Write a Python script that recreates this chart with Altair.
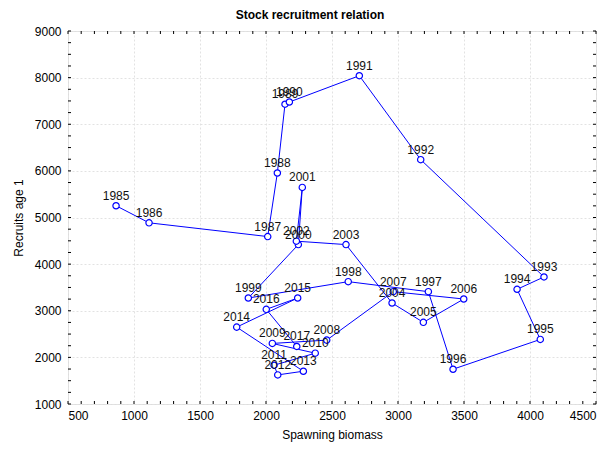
import altair as alt
import pandas as pd

years = list(range(1985, 2018))
biomass = [864, 1114, 2013, 2086, 2144, 2177, 2707, 3172, 4106, 3902,
           4078, 3417, 3230, 2623, 1866, 2245, 2275, 2230, 2606, 2955,
           3192, 3498, 2964, 2460, 2048, 2373, 2061, 2089, 2283, 1778,
           2240, 2002, 2233]
recruits = [5252, 4886, 4591, 5955, 7430, 7477, 8041, 6241, 3725, 3460,
            2385, 1746, 3409, 3624, 3273, 4419, 5645, 4492, 4419, 3166,
            2751, 3252, 3409, 2370, 2299, 2090, 1832, 1624, 1703, 2649,
            3273, 3030, 2234]

x_major = [500, 1000, 1500, 2000, 2500, 3000, 3500, 4000, 4500]
y_major = [1000, 2000, 3000, 4000, 5000, 6000, 7000, 8000, 9000]
x_ticks = list(range(500, 4501, 100))
y_ticks = list(range(1000, 9001, 250))

df = pd.DataFrame({"year": years, "biomass": biomass, "recruits": recruits})
df["label"] = df["year"].astype(str)
xt = pd.DataFrame({"biomass": x_ticks})
yt = pd.DataFrame({"recruits": y_ticks})

W, H = 528, 373
FONT = "Liberation Sans"
BLUE = "#0000ff"

xscale = alt.Scale(domain=[500, 4500], nice=False, zero=False)
yscale = alt.Scale(domain=[1000, 9000], nice=False, zero=False)

xaxis = alt.Axis(values=x_major, format="d", title="Spawning biomass", ticks=False, domain=False,
                 grid=True, gridDash=[2, 2], gridColor="#e2e2e2",
                 labelFontSize=12, labelColor="black", labelPadding=6,
                 titleFontSize=12, titleFontWeight="normal", titleColor="black",
                 titlePadding=8, labelFont=FONT, titleFont=FONT)
yaxis = alt.Axis(values=y_major, format="d", title="Recruits age 1", ticks=False, domain=False,
                 grid=True, gridDash=[2, 2], gridColor="#e2e2e2",
                 labelFontSize=12, labelColor="black", labelPadding=7,
                 titleFontSize=12, titleFontWeight="normal", titleColor="black",
                 titlePadding=9, labelFont=FONT, titleFont=FONT)

X = alt.X("biomass:Q", scale=xscale, axis=xaxis)
Y = alt.Y("recruits:Q", scale=yscale, axis=yaxis)

base = alt.Chart(df)

line = base.mark_line(color=BLUE, strokeWidth=1).encode(
    x=X, y=Y, order=alt.Order("year:Q"),
)

points = base.mark_point(shape="circle", filled=True, fill="white", stroke=BLUE,
                         strokeWidth=1.2, size=40, opacity=1).encode(x=X, y=Y)

labels = base.mark_text(font=FONT, fontSize=12, color="#111111", baseline="alphabetic",
                        align="center", dy=-6).encode(x=X, y=Y, text="label:N")

tick_len = 3
bottom_ticks = alt.Chart(xt).mark_rule(color="black", strokeWidth=1).encode(
    x=X, y=alt.value(H), y2=alt.value(H - tick_len))
top_ticks = alt.Chart(xt).mark_rule(color="black", strokeWidth=1).encode(
    x=X, y=alt.value(0), y2=alt.value(tick_len))
left_ticks = alt.Chart(yt).mark_rule(color="black", strokeWidth=1).encode(
    y=Y, x=alt.value(0), x2=alt.value(tick_len))
right_ticks = alt.Chart(yt).mark_rule(color="black", strokeWidth=1).encode(
    y=Y, x=alt.value(W), x2=alt.value(W - tick_len))

chart = alt.layer(line, bottom_ticks, top_ticks, left_ticks, right_ticks, points, labels).properties(
    width=W, height=H,
    title=alt.TitleParams("Stock recruitment relation", font=FONT, fontSize=12,
                          fontWeight="bold", color="black", anchor="middle",
                          offset=3, dx=-22),
    autosize=alt.AutoSizeParams(type="none"),
    padding={"left": 60, "top": 23, "right": 4, "bottom": 38},
).configure_view(stroke="black", strokeWidth=1).configure(background="white")

chart.save("out.html", embed_options={"renderer": "svg", "actions": False})
